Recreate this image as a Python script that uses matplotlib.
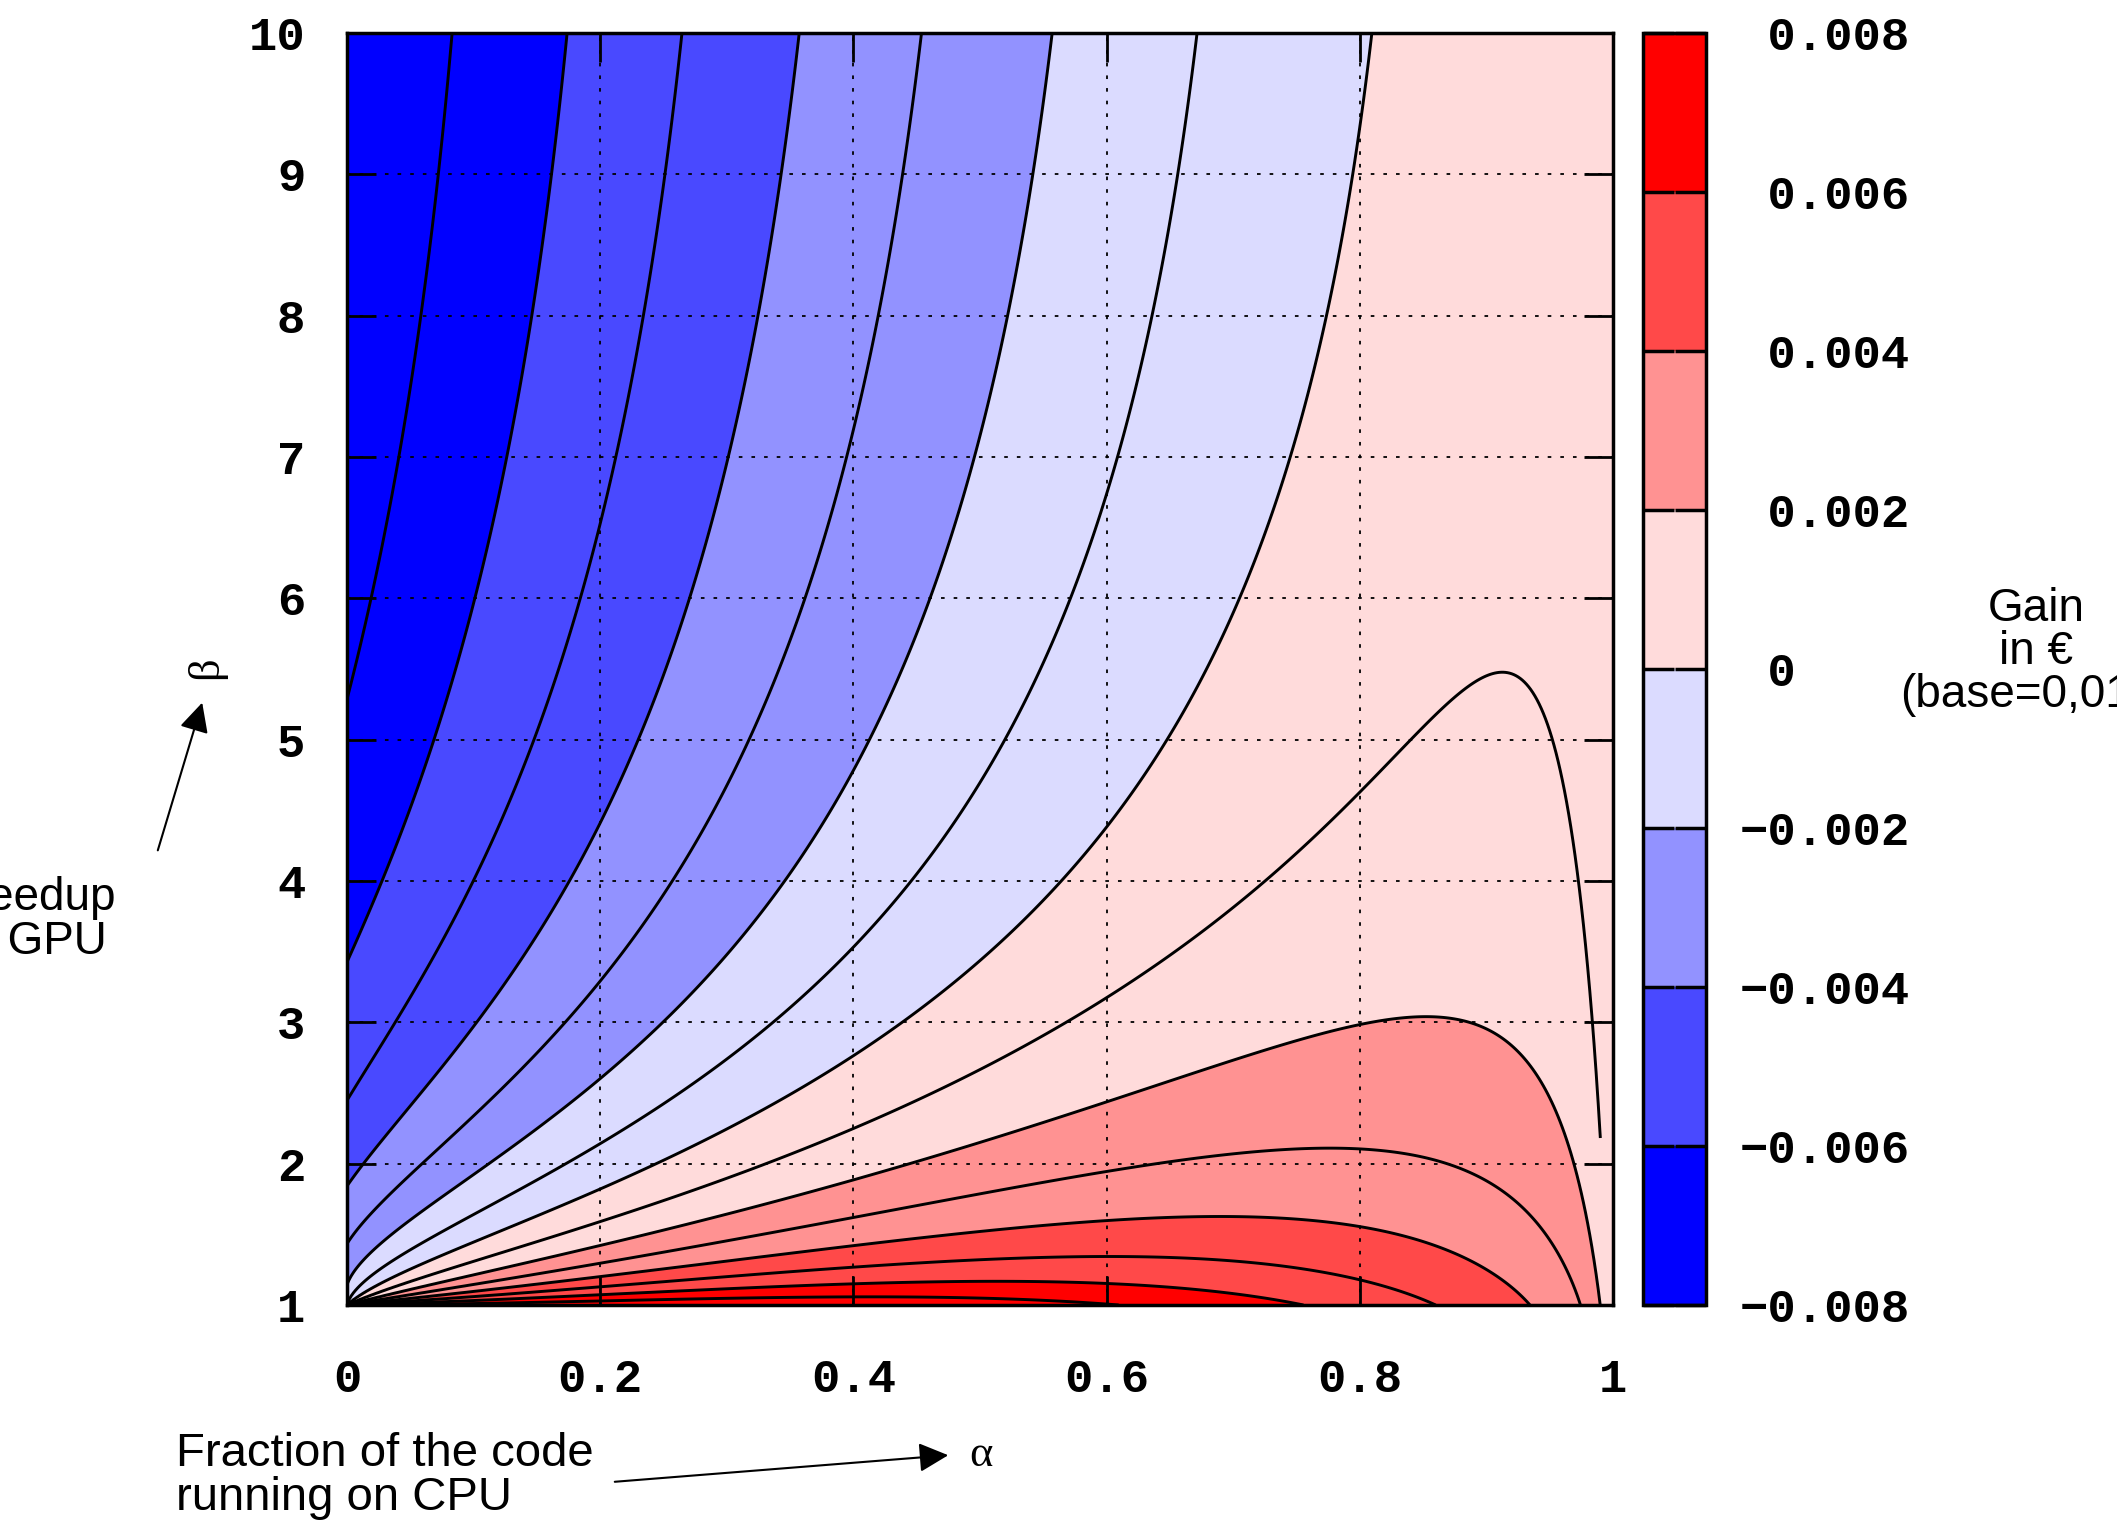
import numpy as np
import matplotlib
matplotlib.use("Agg")
import matplotlib.pyplot as plt
from matplotlib.colors import ListedColormap, BoundaryNorm
from matplotlib.cm import ScalarMappable
from matplotlib.transforms import ScaledTranslation

# points where the black contour lines cross
# (alpha, beta, gain in thousandths of a euro)
pt_alpha = [0.078, 0.161, 0.254, 0.354, 0.461, 0.572, 0.692, 0.829,
            0.067, 0.1465, 0.238, 0.337, 0.552, 0.675, 0.811,
            0.0573, 0.132, 0.2206, 0.319, 0.4216, 0.533, 0.653, 0.790,
            0.030, 0.090, 0.167, 0.257, 0.356, 0.4635,
            0.0095, 0.065, 0.132, 0.214, 0.309, 0.41, 0.528, 0.658, 0.845, 0.958,
            0.021, 0.059, 0.118, 0.19, 0.273, 0.379, 0.503, 0.68,
            0.358, 0.358, 0.358, 0.358, 0.358, 0.358, 0.358, 0.358,
            0.2, 0.2, 0.2, 0.2, 0.2, 0.2, 0.2, 0.2, 0.2,
            0.634, 0.634, 0.634, 0.634,
            0.7396, 0.80, 0.871, 0.92, 0.942, 0.95, 0.963, 0.9766, 0.9845, 0.991,
            0.74, 0.845, 0.8976, 0.924, 0.950, 0.971,
            0.766, 0.871, 0.924, 0.958,
            0.70, 0.80, 0.871, 0.64, 0.60,
            0.708, 0.82, 0.885, 0.93, 0.962, 0.984,
            0.0, 0.0, 0.0, 0.0]
pt_beta = [10, 10, 10, 10, 10, 10, 10, 10,
           9, 9, 9, 9, 9, 9, 9,
           8.11, 8.11, 8.11, 8.11, 8.11, 8.11, 8.11, 8.11,
           5.99, 5.99, 5.99, 5.99, 5.99, 5.99,
           5, 5, 5, 5, 5, 5, 5, 5, 5, 5,
           2.59, 2.59, 2.59, 2.59, 2.59, 2.59, 2.59, 2.59,
           2.5, 2.085, 1.78, 1.555, 1.366, 1.236, 1.13, 1.047,
           2.215, 1.885, 1.625, 1.437, 1.307, 1.2, 1.118, 1.059, 1.024,
           3.24, 2.48, 1.96, 1.63,
           4.0, 4.55, 5.26, 5.55, 5.39, 5.2, 4.73, 4.0, 3.0, 2.21,
           2.8, 2.95, 2.766, 2.51, 2.10, 1.566,
           2.08, 1.91, 1.566, 1.035,
           1.65, 1.6, 1.41, 1.38, 1.2,
           1, 1, 1, 1, 1, 1,
           10, 9, 4.6, 3.1]
pt_gain = [-7, -6, -5, -4, -3, -2, -1, 0,
           -7, -6, -5, -4, -2, -1, 0,
           -7, -6, -5, -4, -3, -2, -1, 0,
           -7, -6, -5, -4, -3, -2,
           -7, -6, -5, -4, -3, -2, -1, 0, 1, 1,
           -5, -4, -3, -2, -1, 0, 1, 2,
           0, 1, 2, 3, 4, 5, 6, 7,
           -1, 0, 1, 2, 3, 4, 5, 6, 7,
           1, 2, 3, 4,
           1, 1, 1, 1, 1, 1, 1, 1, 1, 1,
           2, 2, 2, 2, 2, 2,
           3, 3, 3, 3,
           4, 4, 4, 5, 6,
           7, 6, 5, 4, 3, 2,
           -8.2, -8.0, -7, -6]

band_edges = [-0.008, -0.006, -0.004, -0.002, 0, 0.002, 0.004, 0.006, 0.008]
band_colors = ["#0000ff", "#4949ff", "#9292ff", "#dbdbff",
               "#ffdbdb", "#ff9292", "#ff4949", "#ff0000"]
cb_labels = [u"\u22120.008", u"\u22120.006", u"\u22120.004", u"\u22120.002",
             " 0", " 0.002", " 0.004", " 0.006", " 0.008"]
line_levels = [-0.007, -0.006, -0.005, -0.004, -0.003, -0.002, -0.001,
               0, 0.001, 0.002, 0.003, 0.004, 0.005, 0.006, 0.007]
x_ticks = [0, 0.2, 0.4, 0.6, 0.8, 1]
x_ticklabels = ["0", "0.2", "0.4", "0.6", "0.8", "1"]
y_ticks = [1, 2, 3, 4, 5, 6, 7, 8, 9, 10]


# gain surface in (alpha, log10 beta): (1 - alpha) * cubic over a fixed
# positive denominator that is zero only at alpha=0, beta=1
def basis(a, w):
    return [(1 - a) * t for t in
            [a, w, a * a, a * w, w * w, a ** 3, a * a * w, a * w * w, w ** 3]]


def denom(a, w, k):
    return (a + k[0] * w) * (1 - (1 - k[1]) * a + k[2] * w)


a = np.array(pt_alpha)
w = np.log10(np.array(pt_beta, dtype=float))
g = np.array(pt_gain) * 1e-3
# the thin 0.001 loop on the right is easy to lose, so it counts more
wt = np.where((g > 0.0005) & (g < 0.0015) & (a > 0.7), 4.0, 1.0)
best = None
for k1 in [0.25, 0.5, 1, 1.5, 2, 3, 4, 6, 9]:
    for k2 in [0.01, 0.02, 0.04, 0.066, 0.1, 0.15, 0.25]:
        for k3 in [0.03, 0.1, 0.2, 0.4, 0.8, 1.5, 3]:
            k = (k1, k2, k3)
            M = np.column_stack([t / denom(a, w, k) for t in basis(a, w)])
            c, *_ = np.linalg.lstsq(M * wt[:, None], g * wt, rcond=None)
            err = np.sum((wt * (M @ c - g)) ** 2)
            if best is None or err < best[0]:
                best = (err, k, c)
_, k, coef = best

ga, gb = np.meshgrid(np.linspace(0, 1, 601), np.linspace(1, 10, 601))
gw = np.log10(gb)
with np.errstate(divide="ignore", invalid="ignore"):
    F = sum(c * t for c, t in zip(coef, basis(ga, gw))) / denom(ga, gw, k)
# the chart's contour lines stop at the last sampled column, alpha = 0.99
edge = ga[0] <= 0.991

cmap = ListedColormap(band_colors)
norm = BoundaryNorm(band_edges, cmap.N)

fig = plt.figure(figsize=(21.17, 15.25), dpi=100)
ax = fig.add_axes([347 / 2117, 220 / 1525, 1266 / 2117, 1272 / 1525])
cax = fig.add_axes([1643 / 2117, 220 / 1525, 63 / 2117, 1272 / 1525])

ax.contourf(ga, gb, F, levels=band_edges, colors=band_colors, zorder=1)
ax.contour(ga[:, edge], gb[:, edge], F[:, edge], levels=line_levels, colors="black",
           linewidths=2.1, linestyles="solid", zorder=3)
ax.set_axisbelow("line")
ax.grid(True, color="black", linestyle=(0, (2, 5)), linewidth=1.3)

ax.set_xlim(0, 1)
ax.set_ylim(1, 10)
ax.set_xticks(x_ticks)
ax.set_xticklabels(x_ticklabels)
ax.set_yticks(y_ticks)
tick_font = {"family": ["Liberation Mono", "DejaVu Sans Mono"], "weight": "bold", "size": 34}
shift = ScaledTranslation(13 / 100, 0, fig.dpi_scale_trans)
for lab in ax.get_xticklabels():
    lab.set_fontproperties(tick_font)
    lab.set_transform(lab.get_transform() + shift)
for lab in ax.get_yticklabels():
    lab.set_fontproperties(tick_font)
ax.tick_params(direction="in", length=21, width=2, top=True, right=True)
ax.tick_params(axis="x", pad=38)
ax.tick_params(axis="y", pad=30)
for sp in ax.spines.values():
    sp.set_linewidth(2.5)

cb = fig.colorbar(ScalarMappable(norm=norm, cmap=cmap), cax=cax, ticks=band_edges)
cb.outline.set_linewidth(2.5)
cax.set_yticklabels(cb_labels)
for lab in cax.get_yticklabels():
    lab.set_fontproperties(tick_font)
    lab.set_horizontalalignment("left")
cax.tick_params(axis="y", direction="in", length=22, width=2.5, left=True, right=True,
                labelleft=False, labelright=True, pad=24)

sans = ["Liberation Sans", "DejaVu Sans"]
serif = ["Liberation Serif", "DejaVu Serif"]

fig.text(206 / 2117, 1 - 668 / 1525, u"\u03b2", rotation=90, family=serif, size=32,
         ha="center", va="center")
fig.text(25 / 2117, 1 - 920 / 1525, "Speedup\non GPU", family=sans, size=33,
         ha="center", va="center", multialignment="center", linespacing=0.98)
ax.annotate("", xy=(203, 1525 - 700), xytext=(157, 1525 - 853),
            xycoords="figure pixels", textcoords="figure pixels",
            arrowprops=dict(arrowstyle="-|>", mutation_scale=45, lw=1.5, color="black"))

fig.text(176 / 2117, 1 - 1476 / 1525, "Fraction of the code\nrunning on CPU", family=sans,
         size=34, ha="left", va="center", linespacing=0.98)
ax.annotate("", xy=(951, 1525 - 1455), xytext=(612, 1525 - 1482),
            xycoords="figure pixels", textcoords="figure pixels",
            arrowprops=dict(arrowstyle="-|>", mutation_scale=45, lw=1.5, color="black"))
fig.text(981 / 2117, 1 - 1455 / 1525, u"\u03b1", family=serif, size=32,
         ha="center", va="center")

fig.text(2036 / 2117, 1 - 652 / 1525, u"Gain\nin \u20ac\n(base=0,01\u20ac)", family=sans,
         size=33, ha="center", va="center", multialignment="center", linespacing=0.98)

fig.savefig("out.png", dpi=100)
